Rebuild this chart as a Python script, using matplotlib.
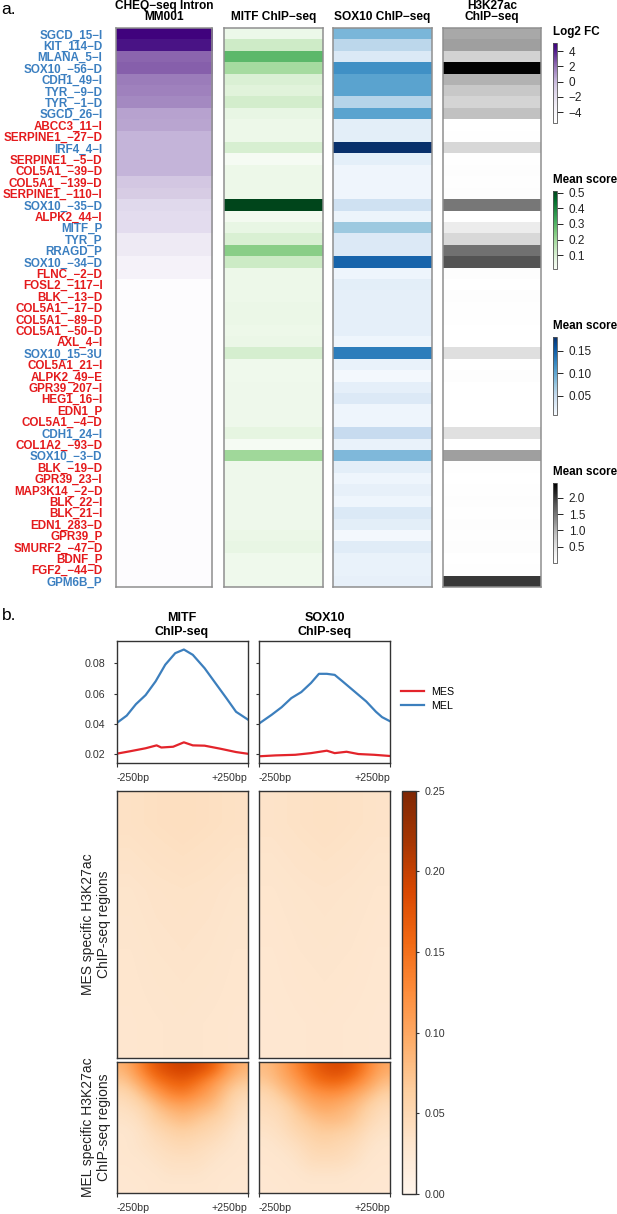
import matplotlib
matplotlib.use('Agg')
import matplotlib.pyplot as plt
import numpy as np
from matplotlib.cm import ScalarMappable
from matplotlib.colors import LinearSegmentedColormap, Normalize

W, H = 617, 1214

# ---------------- panel a data ----------------
rowLabels = ['SGCD_15−I', 'KIT_114−D', 'MLANA_5−I', 'SOX10_−56−D', 'CDH1_49−I', 'TYR_−9−D',
             'TYR_−1−D', 'SGCD_26−I', 'ABCC3_11−I', 'SERPINE1_−27−D', 'IRF4_4−I',
             'SERPINE1_−5−D', 'COL5A1_−39−D', 'COL5A1_−139−D', 'SERPINE1_−110−I',
             'SOX10_−35−D', 'ALPK2_44−I', 'MITF_P', 'TYR_P', 'RRAGD_P', 'SOX10_−34−D',
             'FLNC_−2−D', 'FOSL2_−117−I', 'BLK_−13−D', 'COL5A1_−17−D', 'COL5A1_−89−D',
             'COL5A1_−50−D', 'AXL_4−I', 'SOX10_15−3U', 'COL5A1_21−I', 'ALPK2_49−E',
             'GPR39_207−I', 'HEG1_16−I', 'EDN1_P', 'COL5A1_−4−D', 'CDH1_24−I',
             'COL1A2_−93−D', 'SOX10_−3−D', 'BLK_−19−D', 'GPR39_23−I', 'MAP3K14_−2−D',
             'BLK_22−I', 'BLK_21−I', 'EDN1_283−D', 'GPR39_P', 'SMURF2_−47−D', 'BDNF_P',
             'FGF2_−44−D', 'GPM6B_P']
rowGroup = ['MEL', 'MEL', 'MEL', 'MEL', 'MEL', 'MEL', 'MEL', 'MEL', 'MES', 'MES', 'MEL',
            'MES', 'MES', 'MES', 'MES', 'MEL', 'MES', 'MEL', 'MEL', 'MEL', 'MEL',
            'MES', 'MES', 'MES', 'MES', 'MES', 'MES', 'MES', 'MEL', 'MES', 'MES',
            'MES', 'MES', 'MES', 'MES', 'MEL', 'MES', 'MEL', 'MES', 'MES', 'MES',
            'MES', 'MES', 'MES', 'MES', 'MES', 'MES', 'MES', 'MEL']
log2FC = [5.0, 4.3, 2.3, 2.4, 1.7, 1.6, 1.4, 0.7, 0.6, 0.2, 0.2, 0.2, 0.2, -0.6, -0.8,
          -1.6, -1.8, -1.8, -2.8, -2.8, -3.6, -3.6, -5.0, -5.0, -5.0, -5.0, -5.0, -5.0,
          -5.0, -5.0, -5.0, -5.0, -5.0, -5.0, -5.0, -5.0, -5.0, -5.0, -5.0, -5.0, -5.0,
          -5.0, -5.0, -5.0, -5.0, -5.0, -5.0, -5.0, -5.0]
mitfScore = [0.045, 0.12, 0.29, 0.19, 0.095, 0.08, 0.11, 0.06, 0.044, 0.044, 0.10, 0.015,
             0.044, 0.044, 0.044, 0.51, 0.024, 0.06, 0.097, 0.23, 0.125, 0.044, 0.044,
             0.044, 0.05, 0.05, 0.044, 0.05, 0.105, 0.035, 0.035, 0.04, 0.04, 0.04, 0.04,
             0.07, 0.015, 0.198, 0.04, 0.04, 0.04, 0.04, 0.04, 0.04, 0.05, 0.06, 0.035,
             0.035, 0.035]
sox10Score = [0.088, 0.056, 0.032, 0.117, 0.103, 0.103, 0.06, 0.103, 0.025, 0.025, 0.181,
              0.024, 0.015, 0.015, 0.015, 0.043, 0.017, 0.073, 0.031, 0.031, 0.146, 0.016,
              0.025, 0.023, 0.023, 0.023, 0.023, 0.016, 0.129, 0.02, 0.011, 0.023, 0.031,
              0.016, 0.016, 0.05, 0.02, 0.086, 0.025, 0.016, 0.022, 0.016, 0.032, 0.025,
              0.011, 0.028, 0.02, 0.02, 0.022]
h3k27acScore = [1.08, 1.15, 0.69, 2.44, 1.0, 0.79, 0.67, 0.88, 0.01, 0.03, 0.64, 0.02, 0.04,
                0.03, 0.05, 1.49, 0.01, 0.37, 0.62, 1.54, 1.81, 0.05, 0.01, 0.04, 0.03, 0.02,
                0.01, 0.01, 0.54, 0.01, 0.05, 0.01, 0.01, 0.01, 0.01, 0.52, 0.01, 1.15, 0.03,
                0.01, 0.03, 0.04, 0.03, 0.04, 0.03, 0.04, 0.01, 0.02, 2.0]
columnTitles = ['CHEQ−seq Intron\nMM001', 'MITF ChIP−seq', 'SOX10 ChIP−seq', 'H3K27ac\nChIP−seq']

# ---------------- panel b data ----------------
mitfMelBp = [-250, -211, -176, -139, -101, -64, -26, 7, 41, 86, 131, 169, 206, 250]
mitfMel = [0.0405, 0.0455, 0.053, 0.059, 0.068, 0.079, 0.0866, 0.089, 0.0855, 0.0767,
           0.066, 0.057, 0.048, 0.043]
mitfMesBp = [-250, -199, -139, -97, -79, -34, 7, 41, 86, 146, 206, 250]
mitfMes = [0.0204, 0.022, 0.024, 0.0259, 0.0245, 0.025, 0.0279, 0.0259, 0.0257, 0.0237,
           0.0215, 0.0204]
sox10MelBp = [-250, -201, -163, -126, -88, -51, -21, 9, 39, 69, 114, 159, 196, 219, 250]
sox10Mel = [0.0401, 0.046, 0.051, 0.057, 0.061, 0.067, 0.073, 0.073, 0.0723, 0.068, 0.0614,
            0.0548, 0.048, 0.0445, 0.0417]
sox10MesBp = [-250, -186, -111, -51, 9, 39, 84, 129, 189, 250]
sox10Mes = [0.0187, 0.0193, 0.0197, 0.0208, 0.0224, 0.0208, 0.0217, 0.0202, 0.0197, 0.0189]

# coarse signal (rows top->bottom, bins -250..+250bp)
mitfMesHeat = [[0.038, 0.040, 0.042, 0.040, 0.038],
               [0.033, 0.035, 0.036, 0.035, 0.033],
               [0.031, 0.033, 0.034, 0.033, 0.031],
               [0.030, 0.031, 0.032, 0.031, 0.030]]
sox10MesHeat = [[0.035, 0.037, 0.039, 0.037, 0.035],
                [0.031, 0.033, 0.034, 0.033, 0.031],
                [0.029, 0.031, 0.032, 0.031, 0.029],
                [0.028, 0.029, 0.030, 0.029, 0.028]]
mitfMelHeat = [[0.09, 0.13, 0.17, 0.19, 0.20, 0.19, 0.17, 0.12, 0.09],
               [0.07, 0.10, 0.14, 0.16, 0.17, 0.15, 0.12, 0.09, 0.07],
               [0.05, 0.07, 0.10, 0.13, 0.14, 0.12, 0.10, 0.07, 0.05],
               [0.04, 0.05, 0.07, 0.09, 0.10, 0.09, 0.08, 0.06, 0.04],
               [0.035, 0.04, 0.06, 0.07, 0.08, 0.07, 0.06, 0.05, 0.035],
               [0.03, 0.035, 0.045, 0.055, 0.06, 0.055, 0.05, 0.04, 0.03],
               [0.03, 0.035, 0.04, 0.045, 0.05, 0.045, 0.04, 0.035, 0.03],
               [0.03, 0.03, 0.035, 0.04, 0.04, 0.04, 0.035, 0.03, 0.03],
               [0.028, 0.03, 0.03, 0.035, 0.035, 0.035, 0.03, 0.03, 0.028],
               [0.028, 0.028, 0.03, 0.03, 0.03, 0.03, 0.03, 0.028, 0.028]]
sox10MelHeat = [[0.08, 0.10, 0.13, 0.16, 0.18, 0.19, 0.17, 0.13, 0.10],
                [0.07, 0.09, 0.11, 0.14, 0.16, 0.16, 0.14, 0.11, 0.08],
                [0.05, 0.07, 0.09, 0.11, 0.12, 0.12, 0.10, 0.08, 0.06],
                [0.045, 0.05, 0.07, 0.09, 0.10, 0.09, 0.08, 0.06, 0.045],
                [0.04, 0.045, 0.06, 0.07, 0.08, 0.08, 0.07, 0.05, 0.04],
                [0.035, 0.04, 0.05, 0.06, 0.065, 0.06, 0.055, 0.04, 0.035],
                [0.03, 0.035, 0.04, 0.05, 0.055, 0.05, 0.045, 0.035, 0.03],
                [0.03, 0.03, 0.035, 0.045, 0.045, 0.045, 0.04, 0.03, 0.03],
                [0.028, 0.03, 0.03, 0.035, 0.035, 0.035, 0.03, 0.03, 0.028],
                [0.028, 0.028, 0.03, 0.03, 0.03, 0.03, 0.03, 0.028, 0.028]]

plt.rcParams['font.family'] = ['Liberation Sans', 'DejaVu Sans']

BLUE_LAB = '#3b7fc0'
RED_LAB = '#e41a1c'


def pxAxes(fig, x0, y0, x1, y1):
    return fig.add_axes([x0 / W, 1 - y1 / H, (x1 - x0) / W, (y1 - y0) / H])


def purpleMap(vmin, vmax):
    stops = [(-5.4, '#ffffff'), (-4.6, '#fbfafd'), (-3.6, '#f5f2f9'), (-2.8, '#eeeaf4'),
             (-1.8, '#e3dcee'), (-0.7, '#d6cbe4'), (0.2, '#c4b4d9'), (0.7, '#b7a2cf'),
             (1.5, '#a286c0'), (2.3, '#8b65ae'), (4.3, '#4a1486'), (5.1, '#3f007d')]
    return LinearSegmentedColormap.from_list(
        'cheq', [((v - vmin) / (vmax - vmin), c) for v, c in stops])


def drawColorbar(fig, box, title, cmap, vmin, vmax, ticks, tickLabels=None):
    x0, y0, x1, y1 = box
    cax = pxAxes(fig, x0, y0, x1, y1)
    cb = fig.colorbar(ScalarMappable(Normalize(vmin, vmax), cmap), cax=cax)
    cb.set_ticks(ticks)
    if tickLabels is not None:
        cb.set_ticklabels(tickLabels)
    cb.outline.set_edgecolor('#555555')
    cb.outline.set_linewidth(0.6)
    cax.tick_params(length=4, width=0.7, labelsize=8.5, pad=4, colors='#222222')
    fig.text(x0 / W, 1 - (y0 - 11) / H, title, fontsize=8.4, fontweight='bold',
             ha='left', va='center')
    return cax


def main():
    fig = plt.figure(figsize=(W / 100, H / 100), dpi=100)

    # ================= panel a =================
    top, bottom = 28.3, 586.7
    colX = [(115.7, 212.3), (223.7, 322.7), (333.3, 432.0), (443.3, 541.3)]
    purple = purpleMap(-5.4, 5.1)
    colSpecs = [(log2FC, purple, -5.4, 5.1), (mitfScore, 'Greens', 0.009, 0.513),
                (sox10Score, 'Blues', 0.008, 0.181), (h3k27acScore, 'Greys', 0.01, 2.44)]
    nRows = len(rowLabels)
    for i, ((x0, x1), (vals, cmap, vmin, vmax)) in enumerate(zip(colX, colSpecs)):
        ax = pxAxes(fig, x0, top, x1, bottom)
        ax.imshow(np.array(vals)[:, None], aspect='auto', cmap=cmap, vmin=vmin, vmax=vmax,
                  interpolation='nearest', extent=(0, 1, nRows - 0.5, -0.5))
        ax.set_xticks([])
        if i == 0:
            ax.set_yticks(range(nRows))
            ax.set_yticklabels(rowLabels, fontsize=8.4, fontweight='bold')
            for lab, grp in zip(ax.get_yticklabels(), rowGroup):
                lab.set_color(BLUE_LAB if grp == 'MEL' else RED_LAB)
            ax.tick_params(axis='y', length=0, pad=9.5)
        else:
            ax.set_yticks([])
        for sp in ax.spines.values():
            sp.set_edgecolor('#8f8f8f')
            sp.set_linewidth(1.1)
        fig.text((x0 + x1) / 2 / W, 1 - 23.3 / H, columnTitles[i], fontsize=8.6,
                 fontweight='bold', ha='center', va='bottom', linespacing=0.95)

    drawColorbar(fig, (553.3, 42.7, 557.5, 123.0), 'Log2 FC', purple, -5.4, 5.1,
                 [4, 2, 0, -2, -4])
    drawColorbar(fig, (553.3, 190.7, 557.5, 269.3), 'Mean score', 'Greens', 0.009, 0.513,
                 [0.1, 0.2, 0.3, 0.4, 0.5], ['0.1', '0.2', '0.3', '0.4', '0.5'])
    drawColorbar(fig, (553.3, 336.7, 557.5, 415.0), 'Mean score', 'Blues', 0.008, 0.181,
                 [0.05, 0.10, 0.15], ['0.05', '0.10', '0.15'])
    drawColorbar(fig, (553.3, 483.3, 557.5, 562.7), 'Mean score', 'Greys', 0.01, 2.44,
                 [0.5, 1.0, 1.5, 2.0], ['0.5', '1.0', '1.5', '2.0'])

    fig.text(1 / W, 1 - 10 / H, 'a.', fontsize=12.5, ha='left', va='center')
    fig.text(2 / W, 1 - 615 / H, 'b.', fontsize=12.5, ha='left', va='center')

    # ================= panel b =================
    bCols = [(116.5, 247.6), (258.7, 390.2)]
    bTitles = ['MITF\nChIP-seq', 'SOX10\nChIP-seq']
    profiles = [((mitfMesBp, mitfMes), (mitfMelBp, mitfMel)),
                ((sox10MesBp, sox10Mes), (sox10MelBp, sox10Mel))]
    mesHeats = [mitfMesHeat, sox10MesHeat]
    melHeats = [mitfMelHeat, sox10MelHeat]
    spineCol = '#333333'
    tickSize = 7.7

    def styleSpines(ax):
        for sp in ax.spines.values():
            sp.set_edgecolor(spineCol)
            sp.set_linewidth(1.0)

    def bpTicks(ax):
        ax.set_xticks([-250, 250])
        ax.set_xticklabels(['-250bp', '+250bp'], fontsize=tickSize)
        labs = ax.get_xticklabels()
        labs[0].set_ha('left')
        labs[1].set_ha('right')
        ax.tick_params(axis='x', length=3, width=0.8, pad=4, colors=spineCol)

    handles, labels = [], []
    for j, (x0, x1) in enumerate(bCols):
        ax = pxAxes(fig, x0, 640.7, x1, 763.3)
        (mesBp, mesVals), (melBp, melVals) = profiles[j]
        ax.plot(mesBp, mesVals, color='#e3242b', lw=1.6, label='MES')
        ax.plot(melBp, melVals, color='#3c7fbd', lw=1.6, label='MEL')
        ax.set_xlim(-250, 250)
        ax.set_ylim(0.0141, 0.0948)
        ax.set_yticks([0.02, 0.04, 0.06, 0.08])
        if j == 0:
            ax.set_yticklabels(['0.02', '0.04', '0.06', '0.08'], fontsize=tickSize)
            handles, labels = ax.get_legend_handles_labels()
        else:
            ax.set_yticklabels([])
        ax.tick_params(axis='y', length=2.5, width=0.8, pad=5.5, colors=spineCol)
        bpTicks(ax)
        styleSpines(ax)
        fig.text((x0 + x1) / 2 / W, 1 - 638 / H, bTitles[j], fontsize=9,
                 fontweight='bold', ha='center', va='bottom', linespacing=1.2)

        axMes = pxAxes(fig, x0, 790.7, x1, 1058.3)
        axMes.imshow(np.array(mesHeats[j]), aspect='auto', cmap='Oranges', vmin=0, vmax=0.25,
                     interpolation='bilinear', extent=(-250, 250, 0, 1))
        axMes.set_xticks([])
        axMes.set_yticks([])
        styleSpines(axMes)

        axMel = pxAxes(fig, x0, 1061.7, x1, 1193.3)
        axMel.imshow(np.array(melHeats[j]), aspect='auto', cmap='Oranges', vmin=0, vmax=0.25,
                     interpolation='bicubic', extent=(-250, 250, 0, 1))
        axMel.set_yticks([])
        bpTicks(axMel)
        styleSpines(axMel)

    fig.legend(handles, labels, loc='upper left', bbox_to_anchor=(401 / W, 1 - 687 / H),
               frameon=False, borderpad=0, borderaxespad=0, handlelength=2.15,
               handletextpad=0.7, labelspacing=0.34, fontsize=tickSize)

    cax = pxAxes(fig, 402.4, 790.7, 416.1, 1194.0)
    cb = fig.colorbar(ScalarMappable(Normalize(0, 0.25), 'Oranges'), cax=cax)
    cb.set_ticks([0.0, 0.05, 0.10, 0.15, 0.20, 0.25])
    cb.set_ticklabels(['0.00', '0.05', '0.10', '0.15', '0.20', '0.25'])
    cb.outline.set_edgecolor(spineCol)
    cb.outline.set_linewidth(1.0)
    cax.tick_params(length=2.5, width=0.8, pad=3.5, labelsize=tickSize, colors=spineCol)

    fig.text(96 / W, 1 - 924.5 / H, 'MES specific H3K27ac\nChIP-seq regions', fontsize=10,
             rotation=90, ha='center', va='center', color='#222222')
    fig.text(96 / W, 1 - 1127.5 / H, 'MEL specific H3K27ac\nChIP-seq regions', fontsize=10,
             rotation=90, ha='center', va='center', color='#222222')

    fig.savefig('out.png', dpi=100)


if __name__ == '__main__':
    main()
